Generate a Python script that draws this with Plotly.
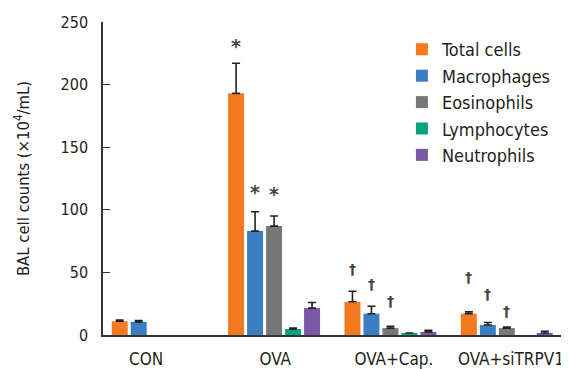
import plotly.graph_objects as go

categories = ["CON", "OVA", "OVA+Cap.", "OVA+siTRPV1"]
series_names = ["Total cells", "Macrophages", "Eosinophils", "Lymphocytes", "Neutrophils"]
colors = ["#F47A22", "#3B7EC3", "#777777", "#06A183", "#7B58A6"]

total_cells = [11, 193, 26.5, 17]
total_err = [1, 24, 8.5, 1.5]
macrophages = [10.5, 83, 17, 8]
macro_err = [1, 15.5, 6, 2]
eosinophils = [0, 87, 5.5, 5.5]
eos_err = [0, 8, 1.5, 0.8]
lymphocytes = [0, 4.8, 1.6, 0]
lymph_err = [0, 0.8, 0, 0]
neutrophils = [0, 21.5, 2.5, 1.6]
neut_err = [0, 4.5, 1.3, 1.4]

values = [total_cells, macrophages, eosinophils, lymphocytes, neutrophils]
errors = [total_err, macro_err, eos_err, lymph_err, neut_err]

# significance marks: (category, series index, symbol, y position)
marks = [
    ("OVA", 0, "*", 231), ("OVA", 1, "*", 114), ("OVA", 2, "*", 113),
    ("OVA+Cap.", 0, "†", 53), ("OVA+Cap.", 1, "†", 40.5), ("OVA+Cap.", 2, "†", 27),
    ("OVA+siTRPV1", 0, "†", 46), ("OVA+siTRPV1", 1, "†", 33), ("OVA+siTRPV1", 2, "†", 19),
]

# horizontal nudges of the category labels (in category units), as in the original figure
label_nudge = [-0.10, 0.01, 0.03, 0.035]

FONT = "DejaVu Sans Condensed, DejaVu Sans, sans-serif"
TXT = "#231F20"
xpos = list(range(len(categories)))

fig = go.Figure()
for name, col, v, e in zip(series_names, colors, values, errors):
    yv = [val if val > 0 else None for val in v]
    err = [ev if ev > 0 else 0 for ev in e]
    fig.add_trace(go.Bar(
        x=xpos, y=yv, name=name, marker=dict(color=col, line=dict(width=0)),
        error_y=dict(type="data", array=err, arrayminus=[0] * len(e), symmetric=False,
                     color="#222222", thickness=1.6, width=4),
    ))

step_px = 19
for cat, si, sym, yv in marks:
    fig.add_annotation(x=categories.index(cat), y=yv, text="<b>" + sym + "</b>", showarrow=False,
                       xref="x", yref="y", xshift=(si - 2) * step_px, yanchor="middle",
                       font=dict(family="DejaVu Sans", size=19 if sym == "*" else 14, color="#444444"))

# page body has an 8px default margin; the figure is sized to fit the window
fig.update_layout(
    width=561, height=361,
    margin=dict(l=95, r=4, t=14, b=34),
    paper_bgcolor="white", plot_bgcolor="white",
    barmode="group", bargap=0.184, bargroupgap=0.158,
    font=dict(family=FONT, size=17, color=TXT),
    showlegend=True,
    legend=dict(x=0.647, y=0.971, xanchor="left", yanchor="top",
                font=dict(family=FONT, size=18, color=TXT),
                bgcolor="rgba(0,0,0,0)", tracegroupgap=0, itemwidth=30),
)
fig.update_xaxes(range=[-0.47, 3.5], tickmode="array",
                 tickvals=[i + d for i, d in zip(xpos, label_nudge)], ticktext=categories,
                 showline=True, linecolor="#333333", linewidth=1.5, ticks="",
                 showgrid=False, zeroline=False, tickfont=dict(size=17), ticklabelstandoff=8,
                 ticklabeloverflow="allow", automargin=False)
fig.update_yaxes(range=[0, 250], tickvals=[0, 50, 100, 150, 200, 250],
                 showline=True, linecolor="#333333", linewidth=1.5,
                 ticks="inside", ticklen=7, tickcolor="#333333", showgrid=False, zeroline=False,
                 tickfont=dict(size=16), ticklabelstandoff=10, automargin=False,
                 title=dict(text="BAL cell counts (×10<sup>4</sup>/mL)", font=dict(size=16.5), standoff=27))

fig.write_html("out.html")
